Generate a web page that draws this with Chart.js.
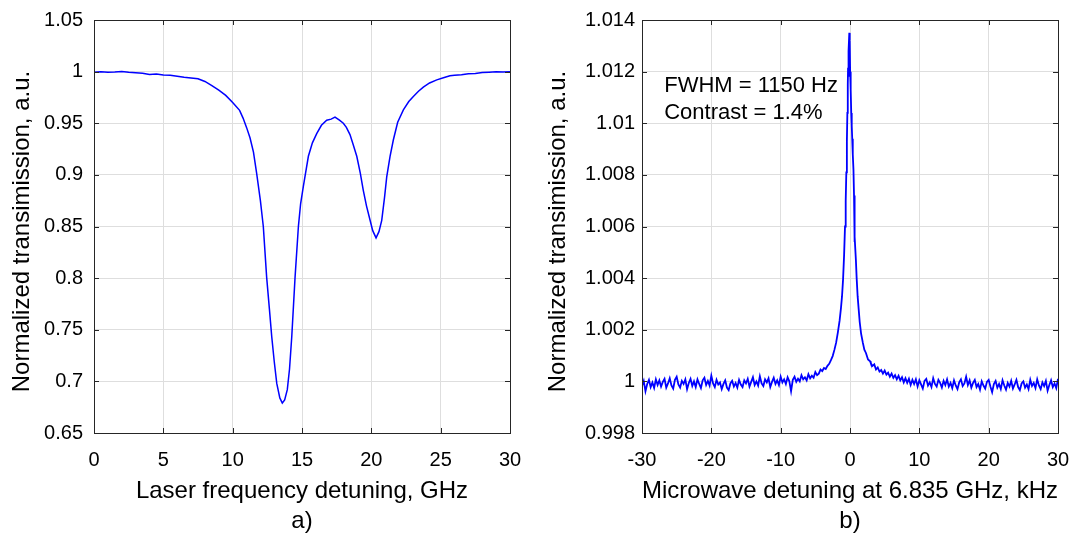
<!DOCTYPE html>
<html>
<head>
<meta charset="utf-8">
<script src="https://cdn.jsdelivr.net/npm/chart.js@4.4.1/dist/chart.umd.min.js"></script>
<style>
  html, body { margin: 0; padding: 0; background: #fff; }
  #wrap { position: relative; width: 1072px; height: 534px; }
  canvas { position: absolute; top: 0; }
  #c1 { left: 0; }
  #c2 { left: 536px; }
</style>
</head>
<body>
<div id="wrap">
  <canvas id="c1" width="536" height="534"></canvas>
  <canvas id="c2" width="536" height="534"></canvas>
</div>
<script>
// panel a) laser detuning scan
const laserX = [0, 0.5, 1, 1.5, 2, 2.5, 3, 3.5, 4, 4.5, 5, 5.5, 6, 6.5, 7, 7.5, 8, 8.5, 9, 9.5, 10, 10.5,
  10.75, 11, 11.25, 11.5, 11.73, 12, 12.21, 12.45, 12.65, 12.82, 13, 13.18, 13.4, 13.58, 13.75, 13.94, 14.1,
  14.26, 14.5, 14.74, 14.9, 15.1, 15.46, 15.75, 16.06, 16.4, 16.78, 17.1, 17.38, 17.7, 17.98, 18.2, 18.46,
  18.7, 18.95, 19.2, 19.42, 19.65, 19.91, 20.1, 20.34, 20.55, 20.75, 20.95, 21.11, 21.35, 21.59, 21.9, 22.31,
  22.7, 23.03, 23.4, 23.75, 24.2, 24.72, 25.2, 25.67, 26, 26.5, 27, 27.5, 28, 28.5, 29, 29.5, 30];
const laserY = [0.9995, 0.9998, 0.9993, 0.9996, 1.0002, 0.9995, 0.999, 0.9985, 0.9972, 0.9978, 0.9968, 0.9965,
  0.9955, 0.9945, 0.9938, 0.993, 0.9905, 0.9865, 0.982, 0.977, 0.97, 0.9625,
  0.955, 0.946, 0.936, 0.922, 0.9015, 0.875, 0.85, 0.801, 0.77, 0.743, 0.719, 0.698, 0.684, 0.679, 0.682, 0.692, 0.712,
  0.743, 0.801, 0.85, 0.872, 0.889, 0.918, 0.931, 0.94, 0.948, 0.953, 0.954, 0.956, 0.953, 0.95, 0.946, 0.939,
  0.929, 0.918, 0.902, 0.885, 0.87, 0.856, 0.846, 0.839, 0.845, 0.856, 0.878, 0.898, 0.918, 0.934, 0.951, 0.963,
  0.971, 0.976, 0.981, 0.985, 0.989, 0.992, 0.994, 0.996, 0.9965, 0.997, 0.998, 0.9983, 0.9992, 0.9995, 0.9998, 0.9996, 1.0];
const laserXTicks = [0, 5, 10, 15, 20, 25, 30];
const laserYTicks = [0.65, 0.7, 0.75, 0.8, 0.85, 0.9, 0.95, 1, 1.05];

// panel b) microwave detuning scan
const mwX = [
  -30, -29.75, -29.5, -29.25, -29, -28.75, -28.5, -28.25, -28, -27.75, -27.5, -27.25,
  -27, -26.75, -26.5, -26.25, -26, -25.75, -25.5, -25.25, -25, -24.75, -24.5, -24.25,
  -24, -23.75, -23.5, -23.25, -23, -22.75, -22.5, -22.25, -22, -21.75, -21.5, -21.25,
  -21, -20.75, -20.5, -20.25, -20, -19.75, -19.5, -19.25, -19, -18.75, -18.5, -18.25,
  -18, -17.75, -17.5, -17.25, -17, -16.75, -16.5, -16.25, -16, -15.75, -15.5, -15.25,
  -15, -14.75, -14.5, -14.25, -14, -13.75, -13.5, -13.25, -13, -12.75, -12.5, -12.25,
  -12, -11.75, -11.5, -11.25, -11, -10.75, -10.5, -10.25, -10, -9.75, -9.5, -9.25,
  -9, -8.75, -8.5, -8.25, -8, -7.75, -7.5, -7.25, -7, -6.75, -6.5, -6.25,
  -6, -5.75, -5.5, -5.25, -5, -4.75, -4.5, -4.25, -4, -3.75, -3.5, -3.25,
  -3, -2.75, -2.5, -2.25, -2, -1.75, -1.5, -1.3, -1.15, -1, -0.85, -0.72, -0.62, -0.53, -0.45,
  -0.38, -0.32, -0.28, -0.24, -0.18, -0.1, -0.04, 0.02, 0.1, 0.18, 0.25, 0.32, 0.4, 0.5, 0.58,
  0.62, 0.66, 0.72, 0.85, 0.96, 1.1, 1.25, 1.4, 1.6, 1.85, 2.07, 2.3, 2.6, 2.9, 3,
  3.25, 3.5, 3.75, 4, 4.25, 4.5, 4.75, 5, 5.25, 5.5, 5.75, 6,
  6.25, 6.5, 6.75, 7, 7.25, 7.5, 7.75, 8, 8.25, 8.5, 8.75, 9,
  9.25, 9.5, 9.75, 10, 10.25, 10.5, 10.75, 11, 11.25, 11.5, 11.75, 12,
  12.25, 12.5, 12.75, 13, 13.25, 13.5, 13.75, 14, 14.25, 14.5, 14.75, 15,
  15.25, 15.5, 15.75, 16, 16.25, 16.5, 16.75, 17, 17.25, 17.5, 17.75, 18,
  18.25, 18.5, 18.75, 19, 19.25, 19.5, 19.75, 20, 20.25, 20.5, 20.75, 21,
  21.25, 21.5, 21.75, 22, 22.25, 22.5, 22.75, 23, 23.25, 23.5, 23.75, 24,
  24.25, 24.5, 24.75, 25, 25.25, 25.5, 25.75, 26, 26.25, 26.5, 26.75, 27,
  27.25, 27.5, 27.75, 28, 28.25, 28.5, 28.75, 29, 29.25, 29.5, 29.75, 30];
const mwY = [
  0.99982, 1.00002, 0.99962, 0.9999, 1.00006, 0.99978, 0.99996, 0.99975, 1.00008, 0.99986, 1.00004, 0.9998,
  0.99998, 1.0001, 0.99976, 0.99992, 1.00012, 0.99984, 0.99972, 1.00006, 1.00018, 0.99988, 0.99976, 1.00002,
  0.9999, 1.00008, 0.9997, 0.99994, 1.0001, 0.99982, 1.0, 0.99978, 1.00008, 0.9999, 0.99974, 1.00004,
  1.00014, 0.99986, 1.00002, 0.99984, 1.00022, 0.99992, 0.99978, 1.00006, 0.99988, 0.99996, 0.9997, 0.9999,
  1.00004, 0.99976, 0.99966, 0.99992, 1.00002, 0.9998, 0.99994, 0.99976, 1.00006, 0.99988, 0.99978, 1.00004,
  0.99992, 1.0001, 0.9998, 0.99998, 1.00016, 0.99986, 1.0, 0.99984, 1.0002, 0.99992, 0.99982, 1.00008,
  0.99996, 1.00012, 0.99978, 0.99998, 1.00014, 0.9999, 1.00004, 0.99986, 1.00018, 0.99996, 1.00008, 0.9999,
  1.00016, 1.0, 0.99962, 1.00006, 1.00018, 0.99998, 1.0001, 1.0, 1.00024, 1.00008, 1.00016, 1.00004,
  1.00028, 1.00012, 1.00022, 1.00014, 1.00036, 1.00024, 1.0003, 1.00046, 1.0004, 1.00052, 1.00048, 1.0006,
  1.00068, 1.00082, 1.00098, 1.00122, 1.0015, 1.0019, 1.00235, 1.00285, 1.0033, 1.00395, 1.0049, 1.006, 1.007, 1.0081, 1.0093,
  1.0104, 1.0115, 1.01215, 1.0118, 1.0128, 1.0135, 1.0132, 1.012, 1.0113, 1.0104, 1.0099, 1.0094, 1.0088, 1.0082, 1.0072,
  1.0054, 1.0061, 1.0056, 1.0047, 1.004, 1.0033, 1.0028, 1.0023, 1.00185, 1.0015, 1.00123, 1.0011, 1.00085, 1.00078, 1.0007,
  1.0006, 1.00066, 1.00046, 1.00054, 1.00038, 1.00044, 1.0003, 1.00042, 1.00026, 1.00034, 1.00018, 1.0003,
  1.00014, 1.00024, 1.00008, 1.00022, 1.00004, 1.00016, 0.99996, 1.00012, 0.99994, 1.0001, 0.99986, 1.00006,
  0.9999, 1.00008, 0.9998, 1.00004, 0.99988, 0.99972, 1.00002, 1.0001, 0.99984, 0.99996, 0.99978, 1.00012,
  0.9999, 0.9998, 1.00006, 0.99994, 0.99976, 1.00002, 0.99986, 1.00008, 0.9998, 0.99994, 0.99974, 1.00004,
  0.99984, 0.9997, 0.99996, 1.00008, 0.99982, 0.99992, 1.00018, 0.99986, 1.00004, 0.99976, 0.99994, 1.00006,
  0.99978, 0.9999, 0.99968, 1.0, 0.99984, 0.99972, 0.99998, 1.00006, 0.9998, 0.99958, 0.9999, 1.00002,
  0.99976, 0.9999, 0.9997, 1.00004, 0.99984, 0.99968, 0.99994, 0.9998, 1.00002, 0.99972, 0.99988, 1.00006,
  0.99978, 0.99966, 0.99992, 1.0, 0.99976, 0.99988, 0.9997, 1.00006, 0.99982, 0.99994, 0.99974, 1.00008,
  0.99984, 0.9997, 0.99996, 0.99982, 1.00002, 0.99964, 0.99986, 1.00004, 0.99978, 0.99992, 0.99974, 1.0001];
const mwXTicks = [-30, -20, -10, 0, 10, 20, 30];
const mwYTicks = [0.998, 1, 1.002, 1.004, 1.006, 1.008, 1.01, 1.012, 1.014];
const mwNotes = ['FWHM = 1150 Hz', 'Contrast = 1.4%'];
const yTitleText = 'Normalized transimission, a.u.';

const FONT = "'Liberation Sans', Arial, Helvetica, sans-serif";
const AXIS = '#262626';
const GRID = '#dedede';
const TEXT = '#000';

// MATLAB-like box with inward ticks on all four sides, plus y title and notes
const boxPlugin = {
  id: 'box',
  afterDatasetsDraw(chart) {
    const {ctx, chartArea: a, scales} = chart;
    const opts = chart.options.plugins.box;
    ctx.save();
    ctx.strokeStyle = AXIS;
    ctx.lineWidth = 1;
    ctx.beginPath();
    scales.x.ticks.forEach(t => {
      const px = Math.round(scales.x.getPixelForValue(t.value)) + 0.5;
      ctx.moveTo(px, a.bottom); ctx.lineTo(px, a.bottom - 5);
      ctx.moveTo(px, a.top); ctx.lineTo(px, a.top + 5);
    });
    scales.y.ticks.forEach(t => {
      const py = Math.round(scales.y.getPixelForValue(t.value)) + 0.5;
      ctx.moveTo(a.left, py); ctx.lineTo(a.left + 5, py);
      ctx.moveTo(a.right, py); ctx.lineTo(a.right - 5, py);
    });
    ctx.stroke();
    ctx.strokeRect(Math.round(a.left) + 0.5, Math.round(a.top) + 0.5,
      Math.round(a.right - a.left), Math.round(a.bottom - a.top));

    ctx.fillStyle = TEXT;
    // y axis title, rotated, sitting a little below the plot centre like the original
    ctx.save();
    ctx.font = '24px ' + FONT;
    ctx.textAlign = 'center';
    ctx.textBaseline = 'middle';
    ctx.translate(opts.titleX, (a.top + a.bottom) / 2 + 5);
    ctx.rotate(-Math.PI / 2);
    ctx.fillText(opts.yTitle, 0, 0);
    ctx.restore();

    if (opts.notes) {
      ctx.font = '22px ' + FONT;
      ctx.textBaseline = 'alphabetic';
      const x0 = scales.x.getPixelForValue(opts.notes.x);
      const y0 = scales.y.getPixelForValue(opts.notes.y);
      opts.notes.lines.forEach((s, i) => ctx.fillText(s, x0, y0 + i * 27));
    }
    ctx.restore();
  }
};

function makePanel(id, xs, ys, xTicks, yTicks, xr, yr, digits, xTitle, yAxisWidth, rightPad, yPad, lineW, notes) {
  const n = Math.min(xs.length, ys.length);
  const pts = xs.slice(0, n).map((x, i) => ({x: x, y: ys[i]}));
  return new Chart(document.getElementById(id), {
    type: 'line',
    data: {
      datasets: [{
        data: pts,
        borderColor: '#0000ff',
        borderWidth: lineW,
        pointRadius: 0,
        tension: 0,
        fill: false
      }]
    },
    options: {
      responsive: false,
      animation: false,
      devicePixelRatio: 1,
      layout: {padding: {left: 0, top: 20, right: rightPad, bottom: 0}},
      plugins: {
        legend: {display: false},
        tooltip: {enabled: false},
        box: {notes: notes, yTitle: yTitleText, titleX: 22}
      },
      scales: {
        x: {
          type: 'linear',
          min: xr[0], max: xr[1],
          afterBuildTicks: s => { s.ticks = xTicks.map(v => ({value: v})); },
          afterFit: s => { s.height = 101; s.paddingLeft = 0; s.paddingRight = 0; },
          ticks: {
            color: TEXT, padding: 15, maxRotation: 0,
            font: {family: FONT, size: 20},
            callback: v => String(v)
          },
          grid: {color: GRID, drawTicks: false},
          border: {display: false},
          title: {
            display: true,
            text: [xTitle[0], xTitle[1]],
            color: TEXT,
            font: {family: FONT, size: 24, lineHeight: 1.25},
            padding: {top: 0, bottom: -2}
          }
        },
        y: {
          type: 'linear',
          min: yr[0], max: yr[1],
          afterBuildTicks: s => { s.ticks = yTicks.map(v => ({value: v})); },
          afterFit: s => { s.width = yAxisWidth; s.paddingTop = 0; s.paddingBottom = 0; },
          ticks: {
            color: TEXT, padding: yPad,
            font: {family: FONT, size: 20},
            callback: v => String(Number(v.toFixed(digits)))
          },
          grid: {color: GRID, drawTicks: false},
          border: {display: false},
          title: {display: false}
        }
      }
    },
    plugins: [boxPlugin]
  });
}

makePanel('c1', laserX, laserY, laserXTicks, laserYTicks, [0, 30], [0.65, 1.05], 2,
  ['Laser frequency detuning, GHz', 'a)'], 94, 26, 11, 1.5, null);

makePanel('c2', mwX, mwY, mwXTicks, mwYTicks, [-30, 30], [0.998, 1.014], 3,
  ['Microwave detuning at 6.835 GHz, kHz', 'b)'], 106, 14, 7, 1.8,
  {x: -26.8, y: 1.01121, lines: mwNotes});
</script>
</body>
</html>
